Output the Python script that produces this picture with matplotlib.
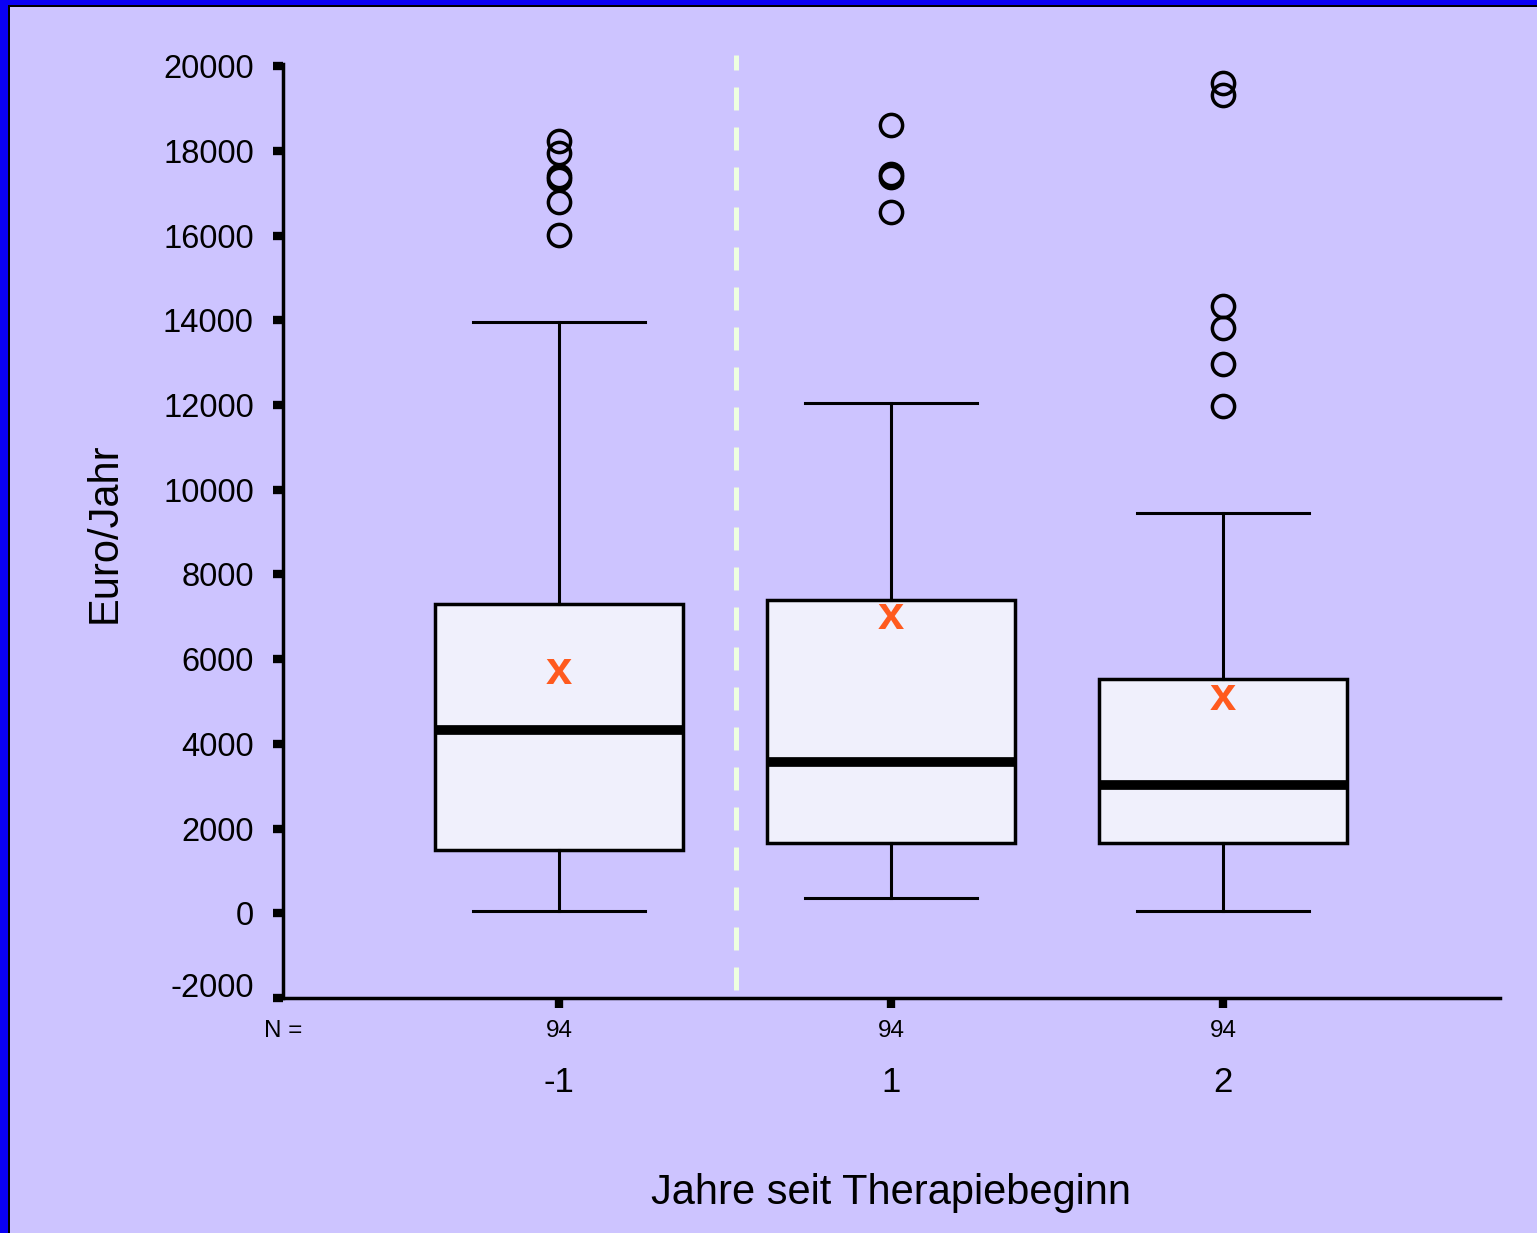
import matplotlib
matplotlib.use("Agg")
import matplotlib.pyplot as plt
from matplotlib.patches import Rectangle
from matplotlib.transforms import ScaledTranslation

plt.rcParams['font.family'] = ['Liberation Sans', 'DejaVu Sans']

# years since start of therapy
groups = ["-1", "1", "2"]
n_counts = [94, 94, 94]

whislo = [50, 350, 50]
q1 = [1490, 1650, 1650]
med = [4320, 3560, 3020]
q3 = [7300, 7390, 5530]
whishi = [13960, 12040, 9450]
means = [5690, 6990, 5080]
fliers = [
    [18230, 17950, 17400, 17330, 16790, 16010],
    [18610, 17460, 17390, 16550],
    [19600, 19320, 14330, 13810, 12960, 11970],
]

bg = "#CDC4FF"

fig = plt.figure(figsize=(15.37, 12.33), dpi=100, facecolor=bg)
ax = fig.add_axes([283 / 1537, 1 - 998 / 1233, (1500 - 283) / 1537, (998 - 64) / 1233])
ax.set_facecolor(bg)

stats = []
for i in range(len(groups)):
    stats.append(dict(whislo=whislo[i], q1=q1[i], med=med[i], q3=q3[i],
                      whishi=whishi[i], fliers=fliers[i], label=groups[i]))

pos = [1, 2, 3]
ax.bxp(stats, positions=pos, widths=0.745, patch_artist=True, showfliers=True,
       boxprops=dict(facecolor="#F0F0FC", edgecolor="black", linewidth=2.5),
       medianprops=dict(color="black", linewidth=7, solid_capstyle="butt"),
       whiskerprops=dict(color="black", linewidth=2.2),
       capprops=dict(color="black", linewidth=2.2),
       capwidths=0.52,
       flierprops=dict(marker="o", markersize=16, markerfacecolor="none",
                       markeredgecolor="black", markeredgewidth=2.5))

for p, m in zip(pos, means):
    ax.text(p, m, "x", color="#FF5A1E", fontsize=34, fontweight="bold",
            ha="center", va="center")

# separator between before / after therapy
ax.axvline(1.533, ymin=0.0086, ymax=1.0096, color="#EEFFE0", linewidth=3.6,
           dashes=(4.6, 3.4), clip_on=False)

ax.set_xlim(0.169, 3.834)
ax.set_ylim(-2000, 20050)
ax.set_yticks(range(-2000, 20001, 2000))
ax.set_yticklabels([str(v) for v in range(-2000, 20001, 2000)])
ax.set_xticks(pos)
ax.set_xticklabels([""] * 3)

for s in ["top", "right"]:
    ax.spines[s].set_visible(False)
ax.spines["left"].set_linewidth(2.5)
ax.spines["bottom"].set_linewidth(2.5)
ax.tick_params(axis="y", length=7, width=6, labelsize=23.5, pad=14, direction="out")
ax.tick_params(axis="x", length=7, width=6, direction="out")

# lowest label sits a bit above its tick, as in the original
lab = ax.get_yticklabels()[0]
lab.set_transform(lab.get_transform() + ScaledTranslation(0, 0.13, fig.dpi_scale_trans))

# N labels and group labels
ax.text(0.0, -0.035, "N =", transform=ax.transAxes, fontsize=17.5,
        ha="center", va="center")
for p, n, g in zip(pos, n_counts, groups):
    ax.annotate(str(n), xy=(p, 0), xycoords=("data", "axes fraction"),
                xytext=(0, -33), textcoords="offset pixels",
                fontsize=17.5, ha="center", va="center")
    ax.annotate(g, xy=(p, 0), xycoords=("data", "axes fraction"),
                xytext=(0, -85), textcoords="offset pixels",
                fontsize=25, ha="center", va="center")

fig.text(891 / 1537, 1 - 1193 / 1233, "Jahre seit Therapiebeginn", fontsize=30,
         ha="center", va="center")
fig.text(105 / 1537, 1 - 533 / 1233, "Euro/Jahr", fontsize=30, rotation=90,
         ha="center", va="center")

# frame: blue strip left and top with thin black inner line
fig.patches.append(Rectangle((0, 0), 8 / 1537, 1, transform=fig.transFigure,
                             facecolor="#0A00F5", edgecolor="none"))
fig.patches.append(Rectangle((0, 1 - 5 / 1233), 1, 5 / 1233, transform=fig.transFigure,
                             facecolor="#0A00F5", edgecolor="none"))
fig.patches.append(Rectangle((8 / 1537, 0), 2 / 1537, 1 - 5 / 1233, transform=fig.transFigure,
                             facecolor="black", edgecolor="none"))
fig.patches.append(Rectangle((8 / 1537, 1 - 7 / 1233), 1, 2 / 1233, transform=fig.transFigure,
                             facecolor="black", edgecolor="none"))

fig.savefig("out.png", dpi=100, facecolor=bg)
